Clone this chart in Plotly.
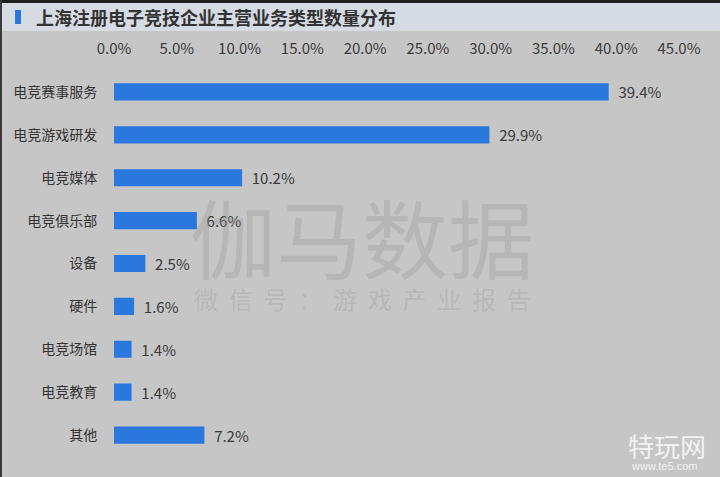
import plotly.graph_objects as go

categories = ["电竞赛事服务", "电竞游戏研发", "电竞媒体", "电竞俱乐部", "设备",
              "硬件", "电竞场馆", "电竞教育", "其他"]
shares = [39.4, 29.9, 10.2, 6.6, 2.5, 1.6, 1.4, 1.4, 7.2]
tick_vals = [0, 5, 10, 15, 20, 25, 30, 35, 40, 45]
tick_text = ["0.0%", "5.0%", "10.0%", "15.0%", "20.0%", "25.0%", "30.0%", "35.0%", "40.0%", "45.0%"]

FONT = "Noto Sans CJK SC"
BG = "#c6c6c6"
BAR = "#2a78de"
W, H = 720, 477
NB = "\u00a0"

fig = go.Figure()
fig.add_trace(go.Bar(
    x=shares,
    y=categories,
    orientation="h",
    marker=dict(color=BAR, line=dict(width=0)),
    width=0.4,
    text=[f"{NB}{NB}{v:.1f}%" for v in shares],
    textposition="outside",
    constraintext="none",
    textfont=dict(size=15, color="#3a3a3a", family=FONT),
    cliponaxis=False,
    hoverinfo="skip",
))

fig.update_layout(
    width=W, height=H,
    margin=dict(l=0, r=0, t=0, b=0),
    paper_bgcolor=BG,
    plot_bgcolor=BG,
    font=dict(family=FONT, color="#333333"),
    showlegend=False,
    xaxis=dict(
        domain=[114 / W, 679 / W],
        range=[0, 45],
        side="top",
        tickvals=tick_vals,
        ticktext=tick_text,
        tickfont=dict(size=15, color="#3a3a3a"),
        showgrid=False, zeroline=False, showline=False,
        ticks="outside", ticklen=10, tickcolor=BG,
        automargin=False,
    ),
    yaxis=dict(
        domain=[1 - 456.5 / H, 1 - 70.5 / H],
        autorange="reversed",
        tickfont=dict(size=14, color="#333333"),
        showgrid=False, zeroline=False, showline=False,
        ticks="outside", ticklen=13, tickcolor=BG,
        automargin=False,
    ),
)

# frame: dark top edge, left edge and the title strip
fig.add_shape(type="rect", xref="paper", yref="paper", x0=0, x1=1,
              y0=1 - 31 / H, y1=1 - 3 / H, fillcolor="#d6dae2", line_width=0, layer="below")
fig.add_shape(type="rect", xref="paper", yref="paper", x0=0, x1=1,
              y0=1 - 3 / H, y1=1, fillcolor="#1e1e1e", line_width=0)
fig.add_shape(type="rect", xref="paper", yref="paper", x0=0, x1=2 / W,
              y0=0, y1=1, fillcolor="#3a3a3a", line_width=0)
fig.add_shape(type="rect", xref="paper", yref="paper", x0=15 / W, x1=21 / W,
              y0=1 - 24 / H, y1=1 - 10 / H, fillcolor=BAR, line_width=0)

fig.add_annotation(text="<b>上海注册电子竞技企业主营业务类型数量分布</b>",
                   xref="paper", yref="paper", x=34 / W, y=1 - 17 / H,
                   xanchor="left", yanchor="middle", showarrow=False,
                   font=dict(size=18, color="#333333", family=FONT))

# watermark
fig.add_annotation(text="伽马数据", xref="paper", yref="paper",
                   x=362 / W, y=1 - 236 / H, showarrow=False,
                   xanchor="center", yanchor="middle",
                   font=dict(size=86, color="rgba(150,150,150,0.32)", family=FONT))
fig.add_annotation(text=(NB * 2).join("微信号：游戏产业报告"), xref="paper", yref="paper",
                   x=362 / W, y=1 - 298 / H, showarrow=False,
                   xanchor="center", yanchor="middle",
                   font=dict(size=24, color="rgba(150,150,150,0.32)", family=FONT))

# site logo
fig.add_annotation(text="特玩网", xref="paper", yref="paper",
                   x=667 / W, y=1 - 445 / H, showarrow=False,
                   xanchor="center", yanchor="middle",
                   font=dict(size=26, color="#f2f2f2", family=FONT))
fig.add_annotation(text="www.te5.com", xref="paper", yref="paper",
                   x=664 / W, y=1 - 466 / H, showarrow=False,
                   xanchor="center", yanchor="middle",
                   font=dict(size=11, color="#f2f2f2", family="Liberation Sans"))

fig.write_html("out.html", config={"displayModeBar": False},
               post_script="document.body.style.margin='0';")
